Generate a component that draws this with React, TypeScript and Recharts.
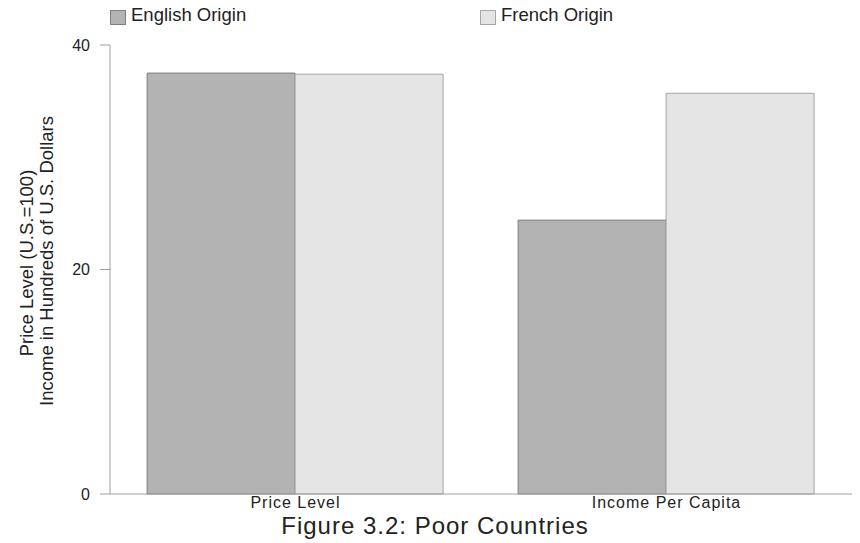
import React from 'react';
import { BarChart, Bar, XAxis, YAxis, Legend } from 'recharts';

const categories = ['Price Level', 'Income Per Capita'];
const englishOrigin = [37.5, 24.4];
const frenchOrigin = [37.4, 35.7];
const yTicks = [0, 20, 40];
const seriesNames = ['English Origin', 'French Origin'];

const data = categories.map((c, i) => ({
  name: c,
  english: englishOrigin[i],
  french: frenchOrigin[i],
}));

const FONT = '"Liberation Sans", Arial, sans-serif';
const ENG_FILL = '#b3b3b3';
const ENG_STROKE = '#7f7f7f';
const FR_FILL = '#e5e5e5';
const FR_STROKE = '#a6a6a6';
const AXIS = '#a0a0a0';

const LegendContent = () => (
  <div style={{ position: 'relative', width: 860, height: 30, fontFamily: FONT, fontSize: 18.5, color: '#222' }}>
    <div style={{ position: 'absolute', left: 110, top: 10, width: 14, height: 13, background: ENG_FILL, border: `1px solid ${ENG_STROKE}` }} />
    <div style={{ position: 'absolute', left: 131, top: 5, lineHeight: '20px' }}>{seriesNames[0]}</div>
    <div style={{ position: 'absolute', left: 480, top: 10, width: 14, height: 13, background: FR_FILL, border: `1px solid ${FR_STROKE}` }} />
    <div style={{ position: 'absolute', left: 501, top: 5, lineHeight: '20px' }}>{seriesNames[1]}</div>
  </div>
);

const YLabel = () => (
  <g fontFamily={FONT} fontSize={18.5} fill="#222">
    <text x={26} y={263} textAnchor="middle" dominantBaseline="central" transform="rotate(-90 26 263)">
      Price Level (U.S.=100)
    </text>
    <text x={46} y={261} textAnchor="middle" dominantBaseline="central" transform="rotate(-90 46 261)">
      Income in Hundreds of U.S. Dollars
    </text>
  </g>
);

const Title = () => (
  <text x={435} y={534} textAnchor="middle" fontFamily={FONT} fontSize={24} letterSpacing={1} fill="#222">
    Figure 3.2: Poor Countries
  </text>
);

export default function App() {
  return (
    <div style={{ position: 'absolute', left: 0, top: 0, background: '#fff' }}>
      <BarChart
        width={860}
        height={543}
        data={data}
        margin={{ top: 15, right: 8, left: 0, bottom: 0 }}
        barCategoryGap="10%"
        barGap={0}
      >
        <XAxis
          dataKey="name"
          height={49}
          tickSize={0}
          tickMargin={3}
          axisLine={{ stroke: AXIS }}
          tick={{ fontFamily: FONT, fontSize: 16, fill: '#222', letterSpacing: 1 }}
          label={<Title />}
        />
        <YAxis
          width={110}
          domain={[0, 40]}
          ticks={yTicks}
          tickSize={10}
          tickMargin={10}
          axisLine={{ stroke: AXIS }}
          tickLine={{ stroke: AXIS }}
          tick={{ fontFamily: FONT, fontSize: 16, fill: '#222' }}
          label={<YLabel />}
        />
        <Legend verticalAlign="top" wrapperStyle={{ position: 'absolute', top: 0, left: 0, width: 860, height: 30 }} content={<LegendContent />} />
        <Bar dataKey="english" name={seriesNames[0]} fill={ENG_FILL} stroke={ENG_STROKE} isAnimationActive={false} />
        <Bar dataKey="french" name={seriesNames[1]} fill={FR_FILL} stroke={FR_STROKE} isAnimationActive={false} />
      </BarChart>
    </div>
  );
}
